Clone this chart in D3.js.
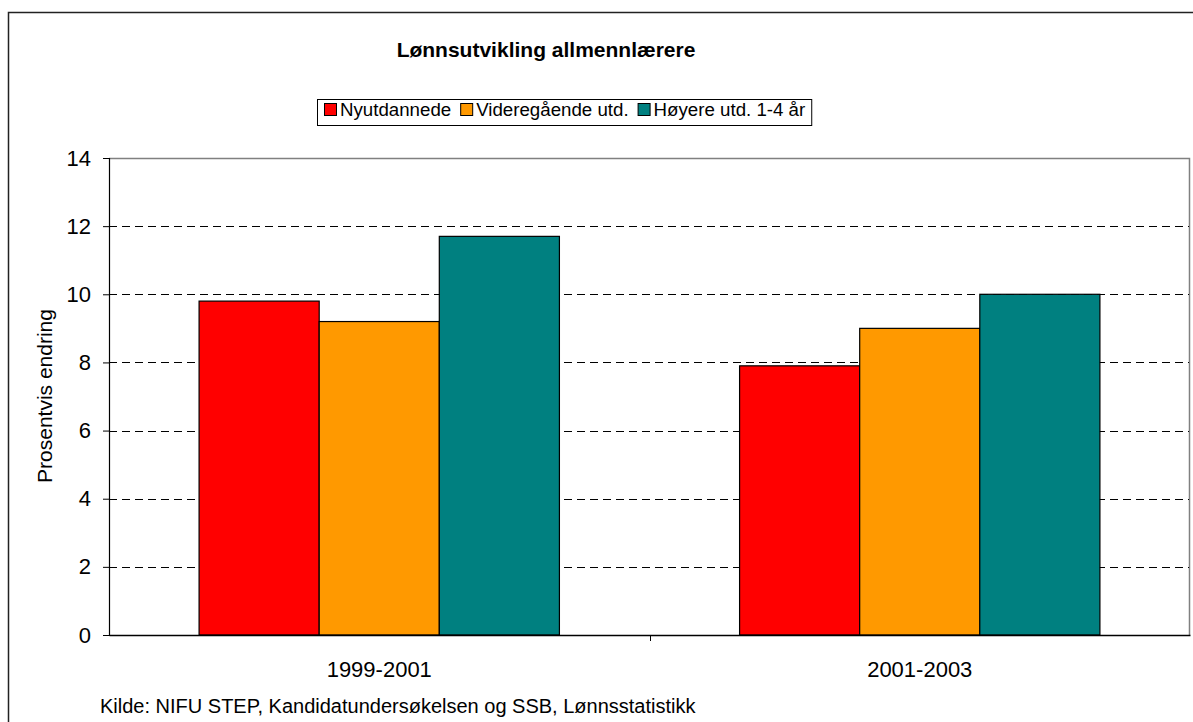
<!DOCTYPE html>
<html>
<head>
<meta charset="utf-8">
<script src="https://cdn.jsdelivr.net/npm/d3@7"></script>
<style>
  body { margin: 0; background: #fff; }
  svg { display: block; font-family: "Liberation Sans", Arial, sans-serif; }
</style>
</head>
<body>
<div id="chart"></div>
<script>
const categories = ["1999-2001", "2001-2003"];
const seriesNames = ["Nyutdannede", "Videregående utd.", "Høyere utd. 1-4 år"];
const seriesColors = ["#ff0000", "#ff9900", "#008080"];
const nyutdannede = [9.8, 7.9];
const videregaende = [9.2, 9.0];
const hoyere = [11.7, 10.0];
const yTicks = [0, 2, 4, 6, 8, 10, 12, 14];

const series = [nyutdannede, videregaende, hoyere];
const rows = categories.map((c, i) => ({
    category: c,
    values: series.map((s, j) => ({ key: seriesNames[j], value: s[i], color: seriesColors[j] }))
}));

const width = 1193;
const height = 722;
const plot = { left: 109, right: 1190, top: 158, bottom: 635 };

const svg = d3.select("#chart").append("svg")
    .attr("width", width)
    .attr("height", height);

// outer chart frame
svg.append("rect")
    .attr("x", 8.5)
    .attr("y", 12.5)
    .attr("width", 1200)
    .attr("height", 720)
    .attr("fill", "none")
    .attr("stroke", "#222")
    .attr("stroke-width", 1.5);

const x0 = d3.scaleBand()
    .domain(categories)
    .range([plot.left, plot.right]);

const x1 = d3.scaleBand()
    .domain(seriesNames)
    .range([0, x0.bandwidth() * 2 / 3]);

const y = d3.scaleLinear()
    .domain([0, 14])
    .range([plot.bottom, plot.top]);

// plot area border (grey top and right)
svg.append("path")
    .attr("d", `M${plot.left},${plot.top + 0.5}H${plot.right - 0.5}V${plot.bottom}`)
    .attr("fill", "none")
    .attr("stroke", "#808080")
    .attr("stroke-width", 1.5);

// gridlines
svg.append("g")
    .selectAll("line")
    .data(yTicks.filter(d => d > 0 && d < 14))
    .enter().append("line")
    .attr("x1", plot.left)
    .attr("x2", plot.right - 1)
    .attr("y1", d => Math.round(y(d)) + 0.5)
    .attr("y2", d => Math.round(y(d)) + 0.5)
    .attr("stroke", "#000")
    .attr("stroke-dasharray", "8,5");

// bars
svg.append("g")
    .selectAll("g")
    .data(rows)
    .enter().append("g")
    .attr("transform", d => `translate(${x0(d.category) + x0.bandwidth() / 6},0)`)
    .selectAll("rect")
    .data(d => d.values)
    .enter().append("rect")
    .attr("x", d => x1(d.key))
    .attr("y", d => y(d.value))
    .attr("width", x1.bandwidth())
    .attr("height", d => y(0) - y(d.value))
    .attr("fill", d => d.color)
    .attr("stroke", "#000")
    .attr("stroke-width", 1.2);

// y axis
const yAxis = svg.append("g")
    .attr("transform", `translate(${plot.left},0)`)
    .call(d3.axisLeft(y).tickValues(yTicks).tickSize(6).tickPadding(12).tickFormat(d3.format("d")));
yAxis.select(".domain").attr("stroke", "#000").attr("stroke-width", 1.2);
yAxis.selectAll(".tick line").attr("stroke", "#000");
yAxis.selectAll("text")
    .attr("fill", "#000")
    .style("font-size", "22px")
    .style("font-family", "Liberation Sans, Arial, sans-serif");

// x axis
const xAxis = svg.append("g")
    .attr("transform", `translate(0,${plot.bottom})`)
    .call(d3.axisBottom(x0).tickSize(0).tickPadding(26));
xAxis.select(".domain").attr("stroke", "#000").attr("stroke-width", 1.5);
xAxis.selectAll("text")
    .attr("fill", "#000")
    .style("font-size", "22px")
    .style("font-family", "Liberation Sans, Arial, sans-serif");

// category separator ticks
svg.append("g")
    .selectAll("line")
    .data(categories.slice(1))
    .enter().append("line")
    .attr("x1", d => Math.round(x0(d)) + 0.5)
    .attr("x2", d => Math.round(x0(d)) + 0.5)
    .attr("y1", plot.bottom)
    .attr("y2", plot.bottom + 6)
    .attr("stroke", "#000");

// y axis title
svg.append("text")
    .attr("transform", "translate(52,396) rotate(-90)")
    .attr("text-anchor", "middle")
    .style("font-size", "21px")
    .text("Prosentvis endring");

// title
svg.append("text")
    .attr("x", 546)
    .attr("y", 57)
    .attr("text-anchor", "middle")
    .style("font-size", "21px")
    .style("font-weight", "bold")
    .text("Lønnsutvikling allmennlærere");

// legend
const legend = svg.append("g");
const legendBox = legend.append("rect")
    .attr("fill", "#fff")
    .attr("stroke", "#000")
    .attr("stroke-width", 1);

let lx = 324;
seriesNames.forEach((name, i) => {
    legend.append("rect")
        .attr("x", lx + 0.5)
        .attr("y", 103.5)
        .attr("width", 12)
        .attr("height", 12)
        .attr("fill", seriesColors[i])
        .attr("stroke", "#000")
        .attr("stroke-width", 1);
    const t = legend.append("text")
        .attr("x", lx + 16)
        .attr("y", 116)
        .style("font-size", "18.7px")
        .text(name);
    lx += 16 + t.node().getComputedTextLength() + 9;
});
legendBox
    .attr("x", 317.5)
    .attr("y", 99.5)
    .attr("width", lx - 9 - 317 + 6)
    .attr("height", 26);

// source note
svg.append("text")
    .attr("x", 100)
    .attr("y", 713)
    .style("font-size", "20px")
    .text("Kilde: NIFU STEP, Kandidatundersøkelsen og SSB, Lønnsstatistikk");
</script>
</body>
</html>
